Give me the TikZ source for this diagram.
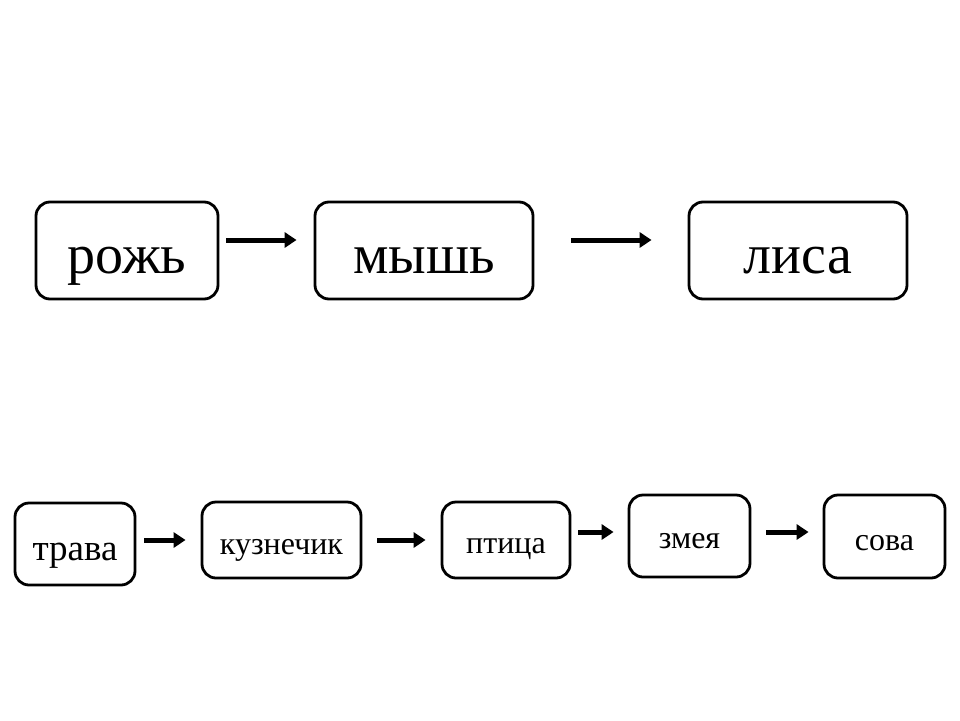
\documentclass[tikz,border=0pt]{standalone}
\usepackage{fontspec}
\setmainfont{Liberation Serif}
\usetikzlibrary{arrows.meta}

\tikzset{
    chain/.style={draw, line width=2.8pt, rounded corners=14pt, inner sep=0pt, text depth=0pt},
    feeds/.style={-{Triangle[length=12pt, width=15pt]}, line width=5pt}
}

\begin{document}
\begin{tikzpicture}[x=1pt, y=-1pt]
                \useasboundingbox (0, 0) rectangle (960, 720);
                % top chain
                \node[chain, minimum width=182pt, minimum height=97pt, text height=45pt, font=\fontsize{56}{60}\selectfont] (rozh) at (127, 250.5){рожь};
                \node[chain, minimum width=218pt, minimum height=97pt, text height=45pt, font=\fontsize{56}{60}\selectfont] (mysh) at (424, 250.5){мышь};
                \node[chain, minimum width=218pt, minimum height=97pt, text height=45pt, font=\fontsize{56}{60}\selectfont] (lisa) at (798, 250.5){лиса};
                \draw[feeds, shorten <=7pt, shorten >=17pt] ([yshift=10.5pt]rozh.east) -- ([yshift=10.5pt]mysh.west);
                \draw[feeds, shorten <=37pt, shorten >=36pt] ([yshift=10.5pt]mysh.east) -- ([yshift=10.5pt]lisa.west);
                % bottom chain
                \node[chain, minimum width=120pt, minimum height=82pt, text height=32pt, font=\fontsize{37}{40}\selectfont] (trava) at (75, 544){трава};
                \node[chain, minimum width=159pt, minimum height=76pt, text height=28pt, font=\fontsize{32}{35}\selectfont] (kuz) at (281.5, 540){кузнечик};
                \node[chain, minimum width=128pt, minimum height=76pt, text height=26pt, font=\fontsize{32}{35}\selectfont] (ptica) at (506, 540){птица};
                \node[chain, minimum width=121pt, minimum height=82pt, text height=24pt, font=\fontsize{32}{35}\selectfont] (zmeya) at (689.5, 536){змея};
                \node[chain, minimum width=121pt, minimum height=83pt, text height=27pt, font=\fontsize{32}{35}\selectfont] (sova) at (884.5, 536.5){сова};
                \draw[feeds, shorten <=8pt, shorten >=15pt] ([yshift=4pt]trava.east) -- (kuz.west);
                \draw[feeds, shorten <=15pt, shorten >=15pt] (kuz.east) -- (ptica.west);
                \draw[feeds, shorten <=7pt, shorten >=14pt] ([yshift=8pt]ptica.east) -- ([yshift=4pt]zmeya.west);
                \draw[feeds, shorten <=15pt, shorten >=14pt] ([yshift=4pt]zmeya.east) -- ([yshift=4.5pt]sova.west);
        \end{tikzpicture}
\end{document}
